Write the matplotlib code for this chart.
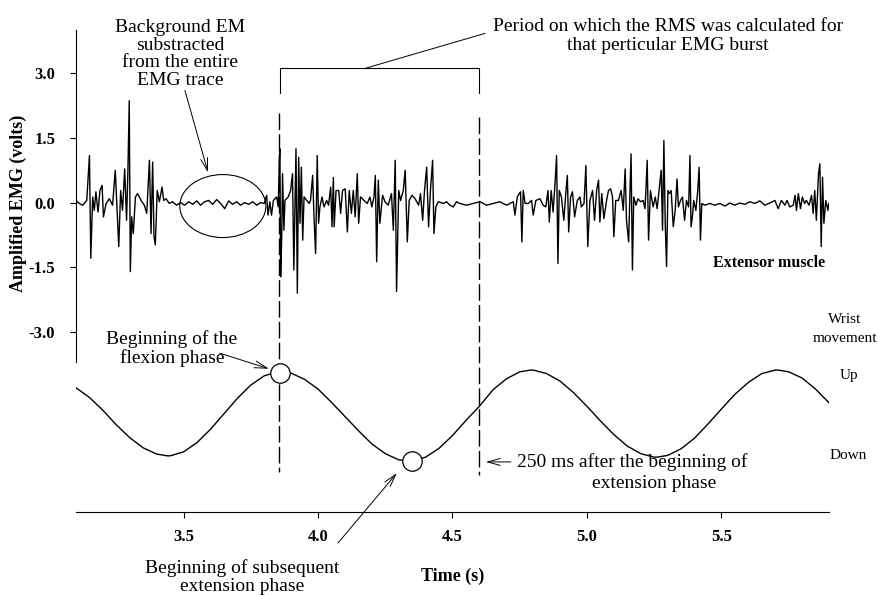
import matplotlib
matplotlib.use("Agg")
import matplotlib.pyplot as plt
from matplotlib.patches import Ellipse

# EMG trace (extensor muscle): time (s) / amplified EMG (V)
emg_t = [
    3.100, 3.112, 3.125, 3.140, 3.150, 3.155, 3.162, 3.168, 3.174, 3.182,
    3.189, 3.197, 3.202, 3.212, 3.224, 3.236, 3.246, 3.254, 3.259, 3.266,
    3.273, 3.281, 3.288, 3.293, 3.298, 3.302, 3.307, 3.313, 3.321, 3.329,
    3.342, 3.354, 3.363, 3.373, 3.379, 3.385, 3.390, 3.395, 3.402, 3.410,
    3.420, 3.426, 3.435, 3.447, 3.459, 3.474, 3.489, 3.504, 3.519, 3.534,
    3.549, 3.563, 3.578, 3.593, 3.608, 3.623, 3.638, 3.653, 3.668, 3.682,
    3.697, 3.712, 3.727, 3.742, 3.757, 3.772, 3.786, 3.800, 3.809, 3.814,
    3.821, 3.827, 3.834, 3.846, 3.852, 3.856, 3.858, 3.861, 3.865, 3.868,
    3.873, 3.877, 3.889, 3.898, 3.905, 3.910, 3.918, 3.923, 3.928, 3.933,
    3.938, 3.943, 3.948, 3.958, 3.967, 3.972, 3.980, 3.985, 3.991, 3.997,
    4.002, 4.007, 4.015, 4.022, 4.032, 4.039, 4.047, 4.052, 4.057, 4.060,
    4.067, 4.077, 4.084, 4.091, 4.101, 4.109, 4.116, 4.124, 4.131, 4.138,
    4.146, 4.151, 4.158, 4.171, 4.183, 4.193, 4.200, 4.208, 4.213, 4.218,
    4.224, 4.230, 4.240, 4.249, 4.261, 4.273, 4.280, 4.287, 4.292, 4.300,
    4.307, 4.317, 4.324, 4.332, 4.339, 4.349, 4.361, 4.374, 4.381, 4.389,
    4.396, 4.404, 4.411, 4.418, 4.426, 4.431, 4.438, 4.447, 4.466, 4.478,
    4.490, 4.503, 4.515, 4.527, 4.552, 4.577, 4.602, 4.627, 4.651, 4.676,
    4.701, 4.726, 4.732, 4.741, 4.748, 4.753, 4.758, 4.763, 4.770, 4.782,
    4.794, 4.800, 4.810, 4.825, 4.837, 4.847, 4.855, 4.860, 4.867, 4.874,
    4.882, 4.887, 4.892, 4.897, 4.905, 4.914, 4.922, 4.927, 4.932, 4.939,
    4.946, 4.954, 4.964, 4.974, 4.979, 4.989, 4.996, 5.003, 5.011, 5.021,
    5.028, 5.036, 5.043, 5.048, 5.055, 5.063, 5.073, 5.080, 5.088, 5.095,
    5.100, 5.107, 5.117, 5.127, 5.135, 5.142, 5.147, 5.155, 5.160, 5.164,
    5.169, 5.174, 5.182, 5.190, 5.199, 5.209, 5.216, 5.224, 5.229, 5.236,
    5.246, 5.254, 5.261, 5.268, 5.276, 5.281, 5.286, 5.291, 5.296, 5.301,
    5.306, 5.313, 5.321, 5.328, 5.335, 5.340, 5.348, 5.355, 5.363, 5.370,
    5.378, 5.383, 5.387, 5.392, 5.397, 5.405, 5.412, 5.417, 5.422, 5.427,
    5.438, 5.457, 5.475, 5.494, 5.513, 5.531, 5.550, 5.568, 5.587, 5.606,
    5.624, 5.643, 5.661, 5.680, 5.699, 5.711, 5.723, 5.736, 5.744, 5.754,
    5.767, 5.774, 5.779, 5.786, 5.794, 5.801, 5.809, 5.816, 5.826, 5.835,
    5.841, 5.847, 5.853, 5.861, 5.866, 5.871, 5.876, 5.881, 5.888, 5.896,
    5.899,
]
emg_v = [
    0.05, -0.02, -0.06, 0.05, 1.09, -1.29, 0.13, -0.18, 0.25, -0.22,
    0.28, 0.40, -0.33, -0.02, 0.09, -0.06, 0.75, -0.33, -1.02, 0.28,
    -0.18, 0.78, -0.41, 0.71, 2.36, -1.60, -0.33, -0.72, 0.13, 0.21,
    0.05, -0.06, -0.25, 0.98, -0.72, 0.94, -0.79, -0.98, 0.28, 0.02,
    0.36, 0.05, 0.09, -0.02, 0.02, -0.06, 0.00, -0.06, 0.02, -0.04,
    0.04, -0.06, 0.02, 0.05, -0.04, 0.07, -0.02, -0.14, 0.04, -0.04,
    0.02, -0.06, 0.00, -0.04, 0.02, -0.06, 0.00, -0.02, 0.17, -0.29,
    0.02, -0.29, 0.05, 0.13, -0.10, 0.94, 1.25, -1.72, -0.79, 0.67,
    -0.64, 0.05, 0.13, 0.28, 0.67, -1.56, 1.25, -2.10, 1.05, -0.48,
    0.82, -0.87, 0.13, 0.05, -0.02, 0.05, 0.63, -0.33, -1.18, 1.09,
    -0.48, -0.10, 0.13, -0.10, 0.05, -0.06, 0.36, -0.56, 0.58, -0.56,
    0.28, 0.28, -0.25, 0.28, 0.32, -0.68, 0.28, -0.25, 0.28, -0.33,
    0.67, -0.48, 0.13, 0.05, -0.02, 0.13, -0.10, 0.13, 0.63, -1.37,
    0.52, -0.48, 0.17, 0.02, -0.06, 0.21, -0.64, 0.98, -2.06, 0.28,
    0.05, 0.28, 0.75, -0.91, 0.05, 0.17, 0.09, -0.06, 0.21, -0.41,
    0.28, 0.82, -0.56, 0.28, 0.98, -0.72, -0.10, 0.02, -0.02, 0.02,
    -0.06, -0.10, 0.02, -0.02, -0.06, -0.02, 0.02, -0.06, -0.02, 0.02,
    -0.06, 0.02, -0.29, 0.13, 0.21, 0.25, -0.91, 0.28, -0.02, -0.02,
    0.05, -0.29, 0.05, 0.09, -0.06, -0.10, 0.28, -0.45, 0.28, -0.22,
    0.52, 1.09, -1.41, 0.28, 0.13, -0.41, 0.28, 0.63, -0.68, 0.13,
    0.25, -0.33, 0.05, 0.13, -0.10, -0.02, 0.86, -1.02, 0.05, 0.28,
    -0.41, 0.28, 0.52, -0.45, 0.21, -0.37, 0.05, 0.28, 0.32, 0.13,
    -0.79, 0.05, 0.05, 0.28, -0.18, 0.78, -0.41, -0.91, 0.28, 1.13,
    -1.56, 0.13, -0.06, 0.09, 0.02, 0.05, -0.14, 0.98, -0.87, 0.28,
    -0.10, 0.13, -0.14, 0.28, 0.75, -0.64, 1.44, -0.48, -1.48, 0.28,
    0.21, 0.28, -0.56, -0.18, 0.55, -0.10, 0.05, 0.13, -0.41, 0.05,
    -0.10, 1.09, -0.56, -0.33, 0.05, -0.18, 0.28, 0.82, -0.87, -0.02,
    -0.06, -0.02, -0.06, -0.02, -0.08, -0.01, -0.06, -0.01, -0.04, 0.02,
    -0.02, 0.04, -0.06, -0.01, 0.05, -0.14, 0.05, -0.06, 0.05, -0.10,
    -0.06, 0.17, -0.18, 0.21, -0.14, 0.13, -0.02, 0.05, -0.06, 0.17,
    -0.25, 0.28, -0.41, 0.67, 0.90, -1.02, 0.59, -0.48, 0.05, -0.18,
    -0.02,
]

# wrist movement trace (Up = +1, Down = -1)
wrist_t = [
    3.10, 3.15, 3.20, 3.25, 3.30, 3.35, 3.40, 3.44, 3.45, 3.50,
    3.55, 3.60, 3.65, 3.70, 3.75, 3.80, 3.85, 3.86, 3.90, 3.95,
    4.00, 4.05, 4.10, 4.15, 4.20, 4.25, 4.30, 4.34, 4.35, 4.40,
    4.45, 4.50, 4.55, 4.60, 4.65, 4.70, 4.75, 4.79, 4.80, 4.85,
    4.90, 4.95, 5.00, 5.05, 5.10, 5.15, 5.20, 5.25, 5.26, 5.30,
    5.35, 5.40, 5.45, 5.50, 5.55, 5.60, 5.65, 5.70, 5.71, 5.75,
    5.80, 5.85, 5.90,
]
wrist_pos = [
    0.62, 0.40, 0.11, -0.22, -0.51, -0.74, -0.88, -0.92, -0.92, -0.83,
    -0.62, -0.32, 0.03, 0.38, 0.68, 0.89, 0.98, 0.98, 0.95, 0.81,
    0.59, 0.29, -0.03, -0.35, -0.65, -0.87, -1.01, -1.04, -1.04, -0.95,
    -0.75, -0.46, -0.12, 0.20, 0.57, 0.82, 0.98, 1.02, 1.02, 0.94,
    0.77, 0.51, 0.20, -0.13, -0.44, -0.70, -0.87, -0.95, -0.95, -0.91,
    -0.76, -0.52, -0.20, 0.14, 0.47, 0.74, 0.94, 1.02, 1.02, 0.98,
    0.84, 0.59, 0.28,
]

flexion_onset = 3.86
extension_onset = 4.35
rms_delay = 0.25
event_t = [flexion_onset, extension_onset]
event_pos = [0.96, -1.04]

yticks = [3.0, 1.5, 0.0, -1.5, -3.0]
ytick_labels = ["3.0", "1.5", "0.0", "-1.5", "-3.0"]
xticks = [3.5, 4.0, 4.5, 5.0, 5.5]
xtick_labels = ["3.5", "4.0", "4.5", "5.0", "5.5"]

plt.rcParams["font.family"] = ["Liberation Serif", "DejaVu Serif"]

W, H = 879, 595
fig = plt.figure(figsize=(W / 100, H / 100), dpi=100)
ax = fig.add_axes([76 / W, 83 / H, 753 / W, 482 / H])
ax.set_xlim(3.1, 5.9)
ax.set_ylim(-7.17, 4.0)

ax.plot(emg_t, emg_v, color="black", lw=1.0)

ax.spines["top"].set_visible(False)
ax.spines["right"].set_visible(False)
ax.spines["left"].set_bounds(-3.7, 4.0)
ax.spines["left"].set_linewidth(0.8)
ax.spines["bottom"].set_linewidth(0.8)
ax.set_yticks(yticks)
ax.set_yticklabels(ytick_labels, fontweight="bold", fontsize=12)
ax.set_xticks(xticks)
ax.set_xticklabels(xtick_labels, fontweight="bold", fontsize=12)
ax.tick_params(axis="y", length=4, width=0.8, pad=11)
ax.tick_params(axis="x", length=4, width=0.8, pad=8)

fig.text(18 / W, 1 - 203 / H, "Amplified EMG (volts)", rotation=90,
         ha="center", va="center", fontsize=13, fontweight="bold")
fig.text(453 / W, 1 - 576 / H, "Time (s)", ha="center", va="center",
         fontsize=13, fontweight="bold")

# wrist movement on its own scale
ax2 = ax.twinx()
ax2.set_ylim(-2.19, 8.71)
ax2.axis("off")
ax2.plot(wrist_t, wrist_pos, color="black", lw=1.0, solid_joinstyle="round")
ax2.plot(event_t, event_pos, "o", ms=14, mfc="white", mec="black", mew=0.9)

# RMS window markers
dash = (0, (12, 3))
rms_end = extension_onset + rms_delay
ax.plot([flexion_onset - 0.005] * 2, [2.07, -6.24], color="black", lw=1.0, ls=dash)
ax.plot([rms_end] * 2, [1.98, -6.31], color="black", lw=1.0, ls=dash)
ax.plot([flexion_onset, flexion_onset, rms_end, rms_end], [2.54, 3.12, 3.12, 2.54],
        color="black", lw=0.8)
ax.plot([4.18, 4.62], [3.12, 3.92], color="black", lw=0.7)

ax.add_patch(Ellipse((3.646, -0.08), 0.32, 1.46, fill=False, lw=0.8, color="black"))

note = dict(fontsize=14, ha="center", va="center")
arrow = dict(arrowstyle="->,head_length=0.9,head_width=0.25", lw=0.7,
             color="black", shrinkA=0, shrinkB=0)

ax.text(3.487, 3.44, "Background EM\nsubstracted\nfrom the entire\nEMG trace",
        linespacing=1.05, **note)
ax.annotate("", xy=(3.591, 0.70), xytext=(3.505, 2.60), arrowprops=arrow)

ax.text(5.301, 3.86, "Period on which the RMS was calculated for\nthat perticular EMG burst",
        linespacing=1.1, **note)

ax.text(5.676, -1.40, "Extensor muscle", fontsize=11.5, fontweight="bold",
        ha="center", va="center")

ax.text(3.457, -3.39, "Beginning of the\nflexion phase", linespacing=1.1, **note)
ax.annotate("", xy=(3.817, -3.85), xytext=(3.635, -3.49), arrowprops=arrow)

ax.text(3.717, -8.68, "Beginning of subsequent\nextension phase", linespacing=1.05, **note)
ax.annotate("", xy=(4.293, -6.27), xytext=(4.074, -7.89), arrowprops=arrow)

ax.text(5.167, -6.01, "250 ms after the beginning of", **note)
ax.text(5.249, -6.50, "extension phase", **note)
ax.annotate("", xy=(4.624, -6.01), xytext=(4.717, -6.01), arrowprops=arrow)

side = dict(fontsize=11, ha="center", va="center")
ax.text(5.959, -2.72, "Wrist", **side)
ax.text(5.959, -3.14, "movement", **side)
ax.text(5.974, -4.0, "Up", **side)
ax.text(5.970, -5.85, "Down", **side)

fig.savefig("out.png", dpi=100)
